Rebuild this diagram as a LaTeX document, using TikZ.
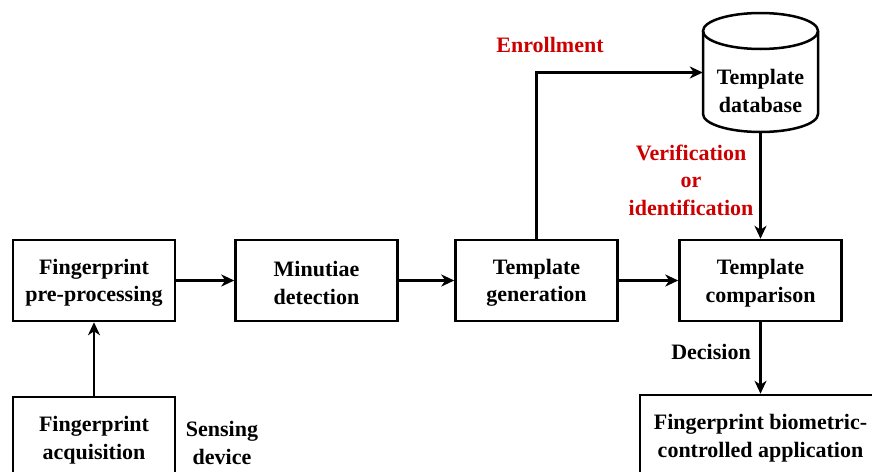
\documentclass[tikz,border=0pt]{standalone}
\usepackage{fontspec}
\setmainfont{Liberation Serif}
\usetikzlibrary{arrows.meta}
\definecolor{labelred}{HTML}{CC0000}
\tikzset{
  txt/.style={font={\fontsize{22}{27.5}\selectfont\bfseries}, align=center, inner sep=0pt},
  stage/.style={draw, line width=2.5pt, minimum width=162pt, minimum height=81pt,
    inner sep=0pt, label={[txt, yshift=-2.5pt]center:#1}},
  arr/.style={line width=2.5pt, -{Stealth[length=13pt, width=12pt, inset=4pt]}},
  redlabel/.style={txt, text=labelred},
}
\begin{document}
\begin{tikzpicture}[x=1pt, y=-1pt]
  \useasboundingbox (0,0) rectangle (872,471);
  \clip (0,0) rectangle (872,471);
  \fill[white] (0,0) rectangle (872,471);

  % processing stages
  \node[stage={Fingerprint\\pre-processing}] (pre) at (94,280.5) {};
  \node[stage={Minutiae\\detection}] (min) at (316.5,280.5) {};
  \node[stage={Template\\generation}] (gen) at (536.5,280.5) {};
  \node[stage={Template\\comparison}] (cmp) at (760.5,280.5) {};
  \node[stage={Fingerprint\\acquisition}] (acq) at (94,437.5) {};
  \node[stage={Fingerprint biometric-\\controlled application}, minimum width=241pt] (app) at (760.5,435.5) {};

  % template database (cylinder)
  \node[minimum width=115pt, minimum height=119pt, inner sep=0pt] (db) at (760.5,72.5) {};
  \draw[line width=2.5pt] (760.5,31) ellipse[x radius=57.5pt, y radius=18pt];
  \draw[line width=2.5pt] (703,31) -- (703,114)
    arc[start angle=180, end angle=360, x radius=57.5pt, y radius=18pt] -- (818,31);
  \node[txt] (dbtext) at (760.5,91) {Template\\database};

  % connectors
  \draw[arr] (acq.north) -- (pre.south);
  \draw[arr] (pre.east) -- (min.west);
  \draw[arr] (min.east) -- (gen.west);
  \draw[arr] (gen.east) -- (cmp.west);
  \draw[arr] (gen.north) |- (db.west);
  \draw[arr] (db.south) -- (cmp.north);
  \draw[arr] (cmp.south) -- (app.north);

  % labels
  \node[redlabel] (enr) at (550,45) {Enrollment};
  \node[redlabel] (ver) at (691,180) {Verification\\or\\identification};
  \node[txt] (dec) at (711,352) {Decision};
  \node[txt] (sen) at (222,443) {Sensing\\device};
\end{tikzpicture}
\end{document}
